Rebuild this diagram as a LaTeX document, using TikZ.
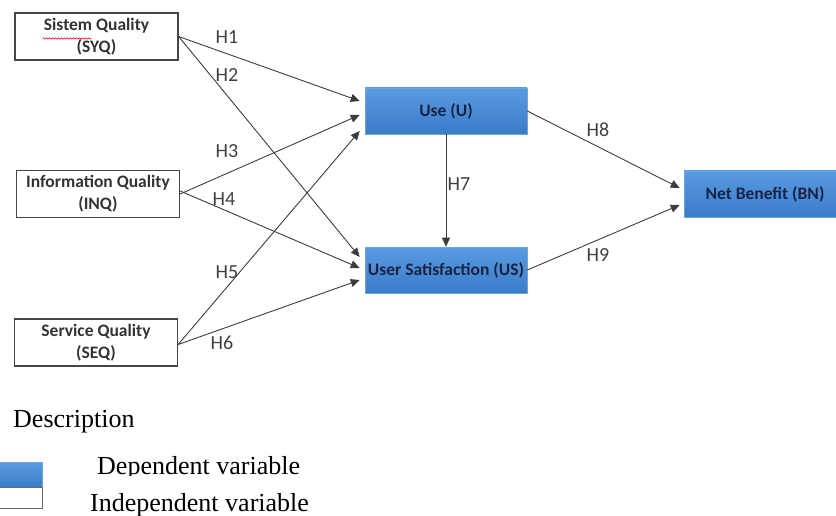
\documentclass[tikz,border=0pt]{standalone}
\usepackage{fontspec}
\setmainfont{Carlito}
\newfontfamily\legendfont{Liberation Serif}
\usetikzlibrary{arrows.meta,decorations.pathmorphing}

\definecolor{boxblueA}{RGB}{88,155,225}
\definecolor{boxblueB}{RGB}{58,124,200}
\definecolor{boxedge}{RGB}{110,165,220}
\definecolor{navytext}{RGB}{25,35,70}
\definecolor{linegray}{RGB}{60,60,60}
\definecolor{framegray}{RGB}{70,70,70}

\tikzset{
  indep/.style={draw=framegray, line width=1.3pt, fill=white, align=center,
    minimum width=163, minimum height=47, inner sep=0pt,
    font=\fontsize{17.5}{22}\selectfont\bfseries, text=black!80},
  dep/.style={draw=boxedge, line width=0.6pt, top color=boxblueA, bottom color=boxblueB,
    align=center, minimum width=162, minimum height=46, inner sep=0pt,
    font=\fontsize{17.5}{22}\selectfont\bfseries, text=navytext},
  link/.style={draw=linegray, line width=0.9pt, -{Triangle[length=9,width=8]}},
  hyp/.style={font=\fontsize{20}{24}\selectfont, text=black!75, inner sep=0pt},
  legendtext/.style={font=\legendfont\fontsize{26}{30}\selectfont, inner sep=0pt, anchor=west}
}

\begin{document}
\begin{tikzpicture}[x=1pt,y=-1pt]
\useasboundingbox (0,0) rectangle (836,516);
\clip (0,0) rectangle (836,516);

% independent variables
\node[indep] (syq) at (96.5,36.5) {Sistem Quality\\(SYQ)};
\node[indep] (inq) at (98,194) {Information Quality\\(INQ)};
\node[indep] (seq) at (96,342.5) {Service Quality\\(SEQ)};

% spell-check squiggle under "Sistem"
\draw[red!80!black, line width=0.5pt, decorate,
  decoration={snake, amplitude=0.7, segment length=3}]
  ([shift={(-54,2)}]syq.center) -- ([shift={(-5,2)}]syq.center);

% dependent variables
\node[dep] (use) at (446,111) {Use (U)};
\node[dep] (us) at (446,270) {User Satisfaction (US)};
\node[dep] (bn) at (765,194) {Net Benefit (BN)};

% hypotheses
\draw[link] (syq.east) -- ([shift={(-5,-10)}]use.west);
\draw[link] (syq.east) -- ([shift={(-5,-13)}]us.west);
\draw[link] (inq.east) -- ([shift={(-5,4)}]use.west);
\draw[link] ([yshift=3]inq.east) -- ([shift={(-5,-2)}]us.west);
\draw[link] ([yshift=-2]seq.east) -- ([shift={(-5,20)}]use.west);
\draw[link] ([yshift=-2]seq.east) -- ([shift={(-5,10)}]us.west);
\draw[link] (use.south) -- (us.north);
\draw[link] (use.east) -- ([shift={(-4,-6)}]bn.west);
\draw[link] (us.east) -- ([shift={(-4,11)}]bn.west);

\node[hyp] (h1) at (227,37) {H1};
\node[hyp] (h2) at (227,75) {H2};
\node[hyp] (h3) at (227,151) {H3};
\node[hyp] (h4) at (224,199) {H4};
\node[hyp] (h5) at (227,272) {H5};
\node[hyp] (h6) at (222,343) {H6};
\node[hyp] (h7) at (459,184) {H7};
\node[hyp] (h8) at (598,130) {H8};
\node[hyp] (h9) at (598,255) {H9};

% legend
\node[legendtext] (desc) at (13,422) {Description};
\node[draw=boxedge, line width=0.6pt, top color=boxblueA, bottom color=boxblueB,
  minimum width=44, minimum height=25, inner sep=0pt, anchor=north west] (kdep) at (-2,462) {};
\node[draw=framegray!80, line width=1.3pt, fill=white,
  minimum width=44, minimum height=21, inner sep=0pt, anchor=north west] (kind) at (-2,487) {};
\begin{scope}
  \clip (80,450) rectangle (330,475);
  \node[legendtext] (tdep) at (97,468) {Dependent variable};
\end{scope}
\node[legendtext] (tind) at (90,505) {Independent variable};
\end{tikzpicture}
\end{document}
